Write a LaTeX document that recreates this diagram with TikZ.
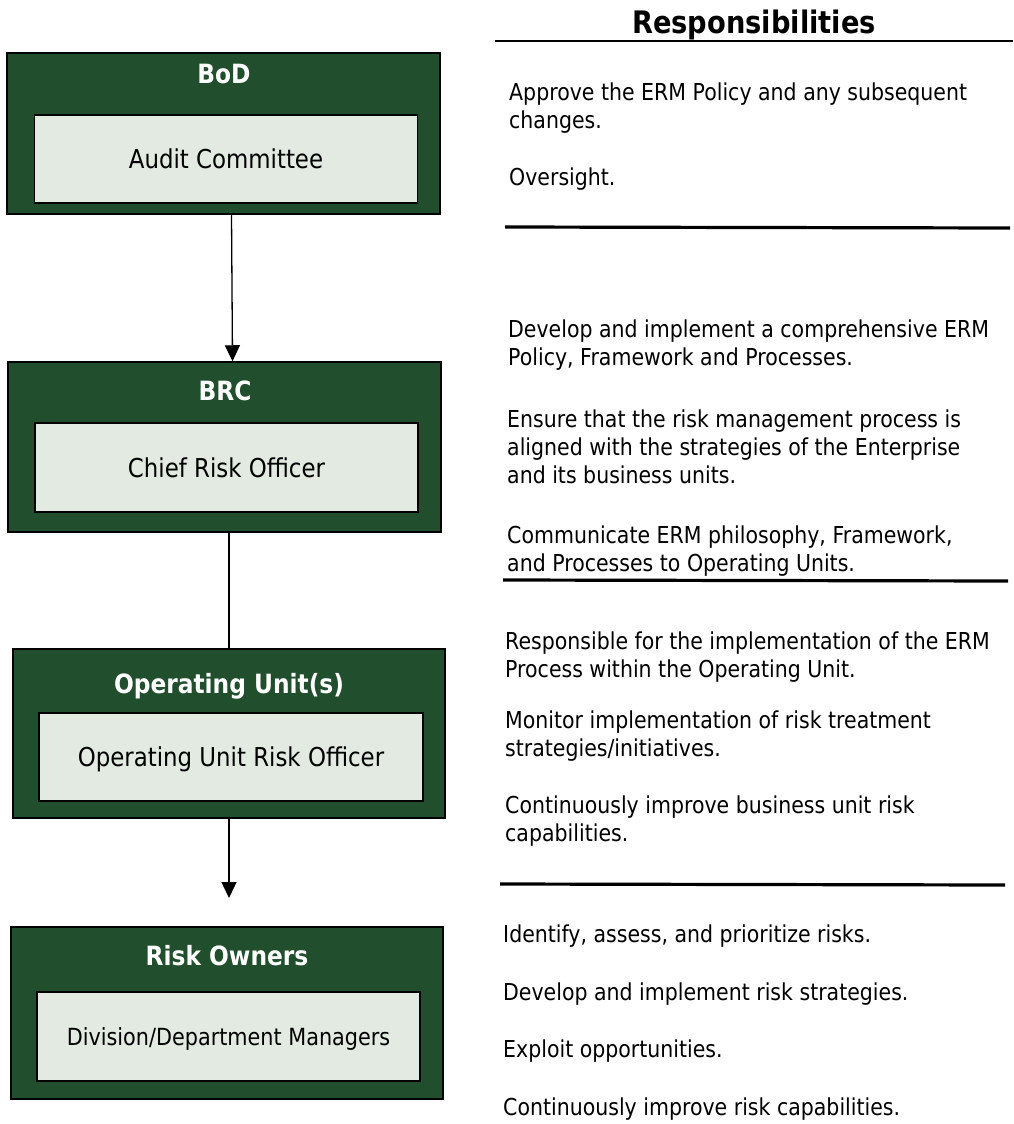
\documentclass[tikz,border=0pt]{standalone}
\usepackage{fontspec}
\setmainfont[FakeStretch=0.88]{DejaVu Sans}
\usetikzlibrary{arrows.meta}
\definecolor{boxgreen}{RGB}{33,78,44}
\definecolor{boxpale}{RGB}{226,234,226}
\tikzset{
  unit/.style={draw=black,line width=1.5pt,fill=boxgreen,inner sep=0pt},
  role/.style={draw=black,line width=1.8pt,fill=boxpale,inner sep=0pt,
    text depth=0pt,font=\fontsize{26}{30}\selectfont},
  head/.style={anchor=base,text=white,font=\fontsize{26.5}{30}\selectfont\bfseries},
  duty/.style={anchor=base west,align=left,inner sep=0pt,
    font=\fontsize{23.3}{28}\selectfont},
  link/.style={line width=1.3pt},
  tip/.style={-{Triangle[width=15pt,length=16pt]}},
  rule/.style={line width=3.2pt}
}

\begin{document}
\begin{tikzpicture}[x=1pt,y=-1pt]
  \useasboundingbox (0,0) rectangle (1013,1124);
  % Left-hand side part of the Figure
  \node[unit,minimum width=433pt,minimum height=161pt] (BoD) at (223.5,133.5) {};
  \node[head]   (BoDt)    at (224,83)     {BoD};
  \node[role,minimum width=383pt,minimum height=88pt] (audit) at (226,159) {Audit Committee};
  \node[unit,minimum width=433pt,minimum height=170pt] (BRC) at (224.5,447) {};
  \node[head]   (BRCt)    at (225,400)    {BRC};
  \node[role,minimum width=383pt,minimum height=89pt] (cro) at (226.5,467.5) {Chief Risk Officer};
  \node[unit,minimum width=432pt,minimum height=169pt] (OU) at (229,733.5) {};
  \node[head]   (OUt)     at (229,693)    {Operating Unit(s)};
  \node[role,minimum width=384pt,minimum height=88pt] (ouro) at (231,757) {Operating Unit Risk Officer};
  \node[unit,minimum width=432pt,minimum height=172pt] (RO) at (227,1013) {};
  \node[head]   (ROt)     at (227,965)    {Risk Owners};
  \node[role,minimum width=383pt,minimum height=89pt,font=\fontsize{23.6}{28}\selectfont] (dept) at (228.5,1036.5) {Division/Department Managers};
  \coordinate   (ROtip)   at (229,898);
  \draw[link,tip] ([xshift=8pt]BoD.south) -- ([xshift=8pt]BRC.north);
  \draw[link] (BRC.south -| OU.north) -- (OU.north);
  \draw[link,tip] (OU.south) -- (ROtip);
  % Right-hand side part of the Figure
  % (multi-line notes are placed by the baseline of their last line)
  \node[anchor=base,inner sep=0pt,font=\fontsize{31}{34}\selectfont\bfseries] (resp) at (754,34) {Responsibilities};
  \draw[line width=1.5pt] (495,41) -- (1013,41);
  \node[duty] (d1a) at (509,128)  {Approve the ERM Policy and any subsequent\\changes.};
  \node[duty] (d1b) at (509,185)  {Oversight.};
  \draw[rule] (505,227) -- (1010,228);
  \node[duty] (d2a) at (508,365)  {Develop and implement a comprehensive ERM\\Policy, Framework and Processes.};
  \node[duty] (d2b) at (507,483)  {Ensure that the risk management process is\\aligned with the strategies of the Enterprise\\and its business units.};
  \node[duty] (d2c) at (507,571)  {Communicate ERM philosophy, Framework,\\and Processes to Operating Units.};
  \draw[rule] (503,580) -- (1008,581);
  \node[duty] (d3a) at (505,677)  {Responsible for the implementation of the ERM\\Process within the Operating Unit.};
  \node[duty] (d3b) at (505,756)  {Monitor implementation of risk treatment\\strategies/initiatives.};
  \node[duty] (d3c) at (505,841)  {Continuously improve business unit risk\\capabilities.};
  \draw[rule] (500,884) -- (1005,885);
  \node[duty] (d4a) at (503,942)  {Identify, assess, and prioritize risks.};
  \node[duty] (d4b) at (503,1000) {Develop and implement risk strategies.};
  \node[duty] (d4c) at (503,1057) {Exploit opportunities.};
  \node[duty] (d4d) at (503,1115) {Continuously improve risk capabilities.};
\end{tikzpicture}
\end{document}
